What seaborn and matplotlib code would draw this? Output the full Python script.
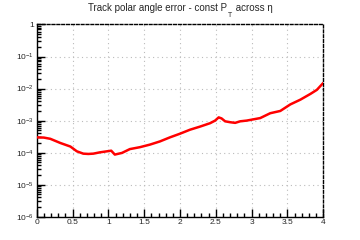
import matplotlib
matplotlib.use("Agg")
import matplotlib.pyplot as plt
import seaborn as sns
import numpy as np
import pandas as pd
from matplotlib.ticker import LogLocator, MultipleLocator, FixedLocator, NullFormatter

eta = [0.0, 0.1, 0.19, 0.33, 0.47, 0.56, 0.65, 0.72, 0.79, 0.88, 0.98, 1.04, 1.09,
       1.19, 1.30, 1.44, 1.58, 1.72, 1.86, 2.00, 2.14, 2.28, 2.42, 2.49, 2.54, 2.58,
       2.63, 2.70, 2.77, 2.84, 2.93, 3.03, 3.12, 3.26, 3.40, 3.54, 3.68, 3.82, 3.91, 4.0]
err = [3.0e-4, 2.95e-4, 2.7e-4, 2.0e-4, 1.55e-4, 1.1e-4, 9.3e-5, 9.1e-5, 9.3e-5, 1.02e-4,
       1.1e-4, 1.15e-4, 8.7e-5, 9.8e-5, 1.29e-4, 1.48e-4, 1.78e-4, 2.24e-4, 3.0e-4, 3.9e-4,
       5.2e-4, 6.5e-4, 8.3e-4, 1.0e-3, 1.26e-3, 1.17e-3, 9.5e-4, 8.9e-4, 8.5e-4, 9.5e-4,
       1.0e-3, 1.1e-3, 1.2e-3, 1.7e-3, 2.0e-3, 3.2e-3, 4.5e-3, 6.8e-3, 9.1e-3, 1.5e-2]
title_main = "Track polar angle error - const P"
title_sub = "T"
title_end = " across η"
ytick_vals = [1e-6, 1e-5, 1e-4, 1e-3, 1e-2, 1e-1, 1]
ytick_labels = ["$10^{-6}$", "$10^{-5}$", "$10^{-4}$", "$10^{-3}$", "$10^{-2}$", "$10^{-1}$", "1"]
xtick_vals = [0, 0.5, 1, 1.5, 2, 2.5, 3, 3.5, 4]
xtick_labels = ["0", "0.5", "1", "1.5", "2", "2.5", "3", "3.5", "4"]

sns.set_style("white")
plt.rcParams['font.family'] = ['Liberation Sans', 'DejaVu Sans']
plt.rcParams['mathtext.fontset'] = 'custom'
plt.rcParams['mathtext.rm'] = 'Liberation Sans'
plt.rcParams['mathtext.it'] = 'Liberation Sans'

fig = plt.figure(figsize=(3.6, 2.4), dpi=100)
ax = fig.add_axes([0.102, 0.097, 0.796, 0.801])

df = pd.DataFrame({"eta": eta, "err": err})
sns.lineplot(data=df, x="eta", y="err", ax=ax, color="#ff0000", lw=1.8, zorder=3)

ax.set_yscale("log")
ax.set_xlim(0, 4)
ax.set_ylim(1e-6, 1)
ax.set_xlabel("")
ax.set_ylabel("")

ax.yaxis.set_major_locator(FixedLocator(ytick_vals))
ax.set_yticklabels(ytick_labels)
ax.yaxis.set_minor_locator(LogLocator(base=10, subs=np.arange(2, 10), numticks=20))
ax.yaxis.set_minor_formatter(NullFormatter())
ax.xaxis.set_major_locator(FixedLocator(xtick_vals))
ax.set_xticklabels(xtick_labels)
ax.xaxis.set_minor_locator(MultipleLocator(0.1))

ax.tick_params(axis="both", which="major", direction="in", length=6, width=1,
               labelsize=6, color="black", pad=2)
ax.tick_params(axis="both", which="minor", direction="in", length=3, width=1, color="black")
ax.tick_params(left=True, bottom=True, top=False, right=False, which="both")

ax.grid(True, which="major", color="#bbbbbb", linestyle=(0, (1, 3)), linewidth=0.8)

for s in ["left", "bottom"]:
    ax.spines[s].set_color("black")
    ax.spines[s].set_linewidth(1.0)
for s in ["top", "right"]:
    ax.spines[s].set_color("black")
    ax.spines[s].set_linewidth(1.0)
    ax.spines[s].set_linestyle((0, (2, 1.5)))

t1 = fig.text(0.5, 0.965, title_main + "   " + title_end.strip(), ha="center", va="center",
              fontsize=7, color="white", alpha=0)
fig.canvas.draw()
bb = t1.get_window_extent()
x0 = bb.x0 / fig.bbox.width
fig.text(x0, 0.965, title_main, ha="left", va="center", fontsize=7)
t_main = fig.texts[-1]
fig.canvas.draw()
bm = t_main.get_window_extent()
xs = bm.x1 / fig.bbox.width
fig.text(xs + 0.002, 0.935, title_sub, ha="left", va="center", fontsize=5)
fig.text(xs + 0.016, 0.965, title_end, ha="left", va="center", fontsize=7)
t1.remove()

fig.savefig("out.png", dpi=100)
